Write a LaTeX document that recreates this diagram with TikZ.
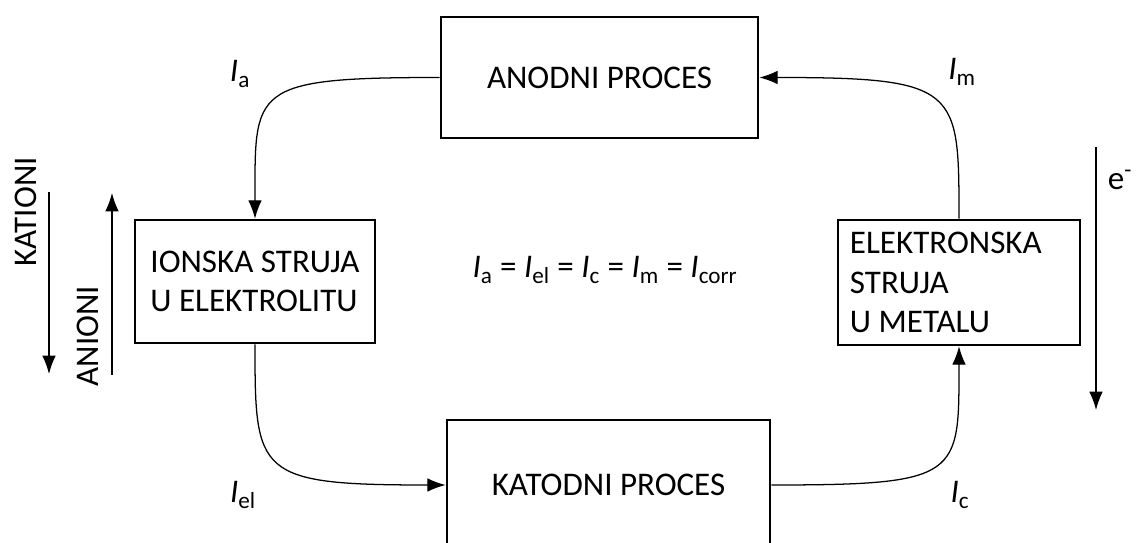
\documentclass[tikz,border=0pt]{standalone}
\usepackage{fontspec}
\setmainfont{Carlito}
\usetikzlibrary{arrows.meta}

\tikzset{
  proc/.style={draw, line width=1.8pt, inner sep=0pt, font=\fontsize{23.5}{28}\selectfont},
  flow/.style={line width=0.9pt, -{Latex[length=4.6mm,width=3.4mm]}},
  lbl/.style={font=\fontsize{23.5}{28}\selectfont},
}
\newcommand{\struja}[1]{\textit{I}\textsubscript{#1}}

\begin{document}
\begin{tikzpicture}[x=0.025cm, y=-0.025cm]
\useasboundingbox (0,0) rectangle (1140,543);
\clip (0,0) rectangle (1140,543);
% the four boxes
\node [proc, minimum width=7.925cm, minimum height=3.025cm] (anod) at (599.5,77.5) {ANODNI PROCES};
\node [proc, minimum width=6cm, minimum height=3.075cm, align=left] (ion) at (255,281.5) {IONSKA STRUJA\\U ELEKTROLITU};
\node [proc, minimum width=6.05cm, minimum height=3.125cm, align=flush left, text width=5.45cm] (elek) at (959,282.5) {ELEKTRONSKA\\STRUJA\\U METALU};
\node [proc, minimum width=8.075cm, minimum height=3.25cm] (katod) at (608.5,485) {KATODNI PROCES};
% currents
\draw [flow] (anod.west) .. controls +(-190,0) and +(0,-130) .. (ion.north);
\draw [flow] (ion.south) .. controls +(0,130) and +(-190,0) .. (katod.west);
\draw [flow] (katod.east) .. controls +(190,0) and +(0,130) .. (elek.south);
\draw [flow] (elek.north) .. controls +(0,-130) and +(200,0) .. (anod.east);
\node [lbl] (ia) at (240,74) {\struja{a}};
\node [lbl] (im) at (962,72) {\struja{m}};
\node [lbl] (iel) at (243,495) {\struja{el}};
\node [lbl] (ic) at (960,495) {\struja{c}};
\node [lbl] (eq) at (605,270) {\struja{a} = \struja{el} = \struja{c} = \struja{m} = \struja{corr}};
% ions and electrons
\coordinate (k1) at (49,192);
\coordinate (k2) at (49,374);
\coordinate (a1) at (112,375);
\coordinate (a2) at (112,193);
\coordinate (e1) at (1096,147);
\coordinate (e2) at (1096,410);
\draw [flow] (k1) -- (k2);
\draw [flow] (a1) -- (a2);
\draw [flow] (e1) -- (e2);
\node [lbl, rotate=90] (kat) at (26,212) {KATIONI};
\node [lbl, rotate=90] (ani) at (88,336) {ANIONI};
\node [lbl] (el) at (1120,180) {e\textsuperscript{-}};
\end{tikzpicture}
\end{document}
